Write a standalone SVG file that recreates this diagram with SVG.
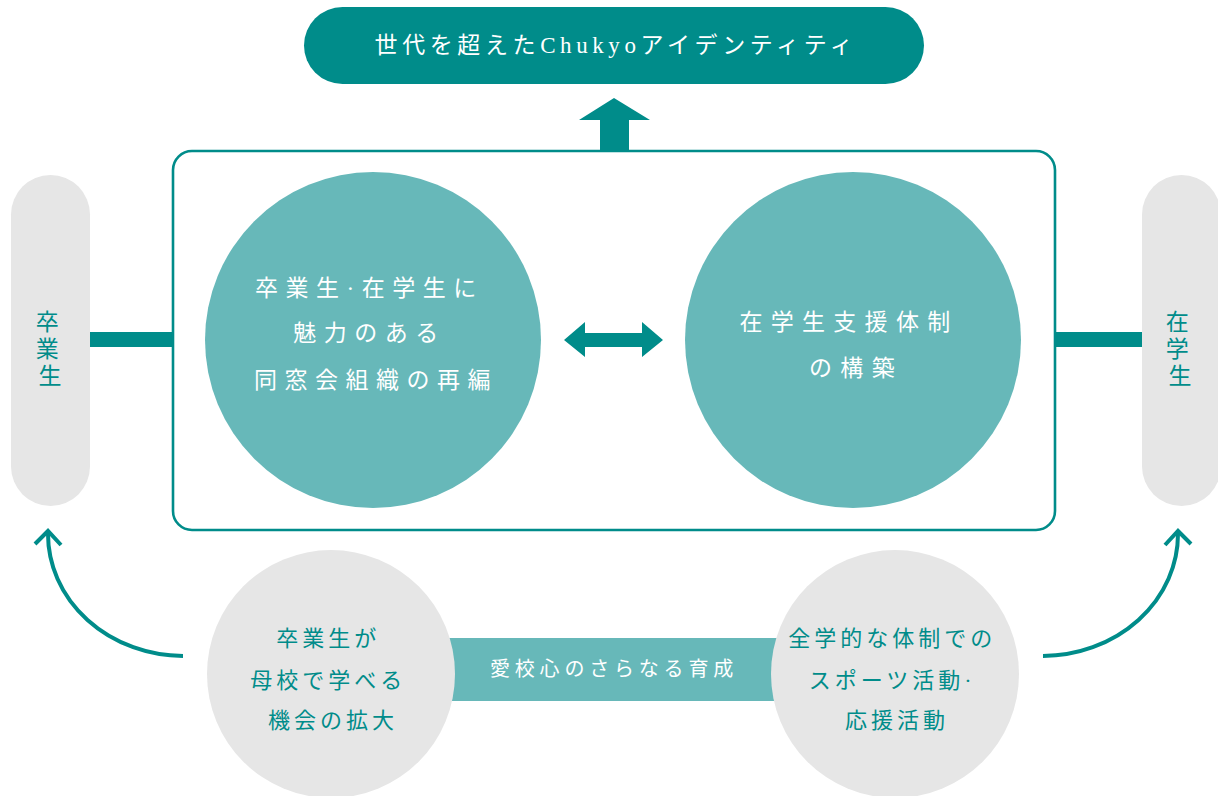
<svg xmlns="http://www.w3.org/2000/svg" width="1218" height="796" viewBox="0 0 1218 796">
<style>
.t{font-family:"Liberation Serif","Noto Sans CJK JP",serif;text-anchor:middle;dominant-baseline:central}
.w{fill:#ffffff}
.d{fill:#008c8a}
.dark{fill:#008c8a}
.light{fill:#67b8b9}
.gray{fill:#e6e6e6}
.curve{fill:none;stroke:#008c8a;stroke-width:4;stroke-linecap:butt}
.chev{fill:none;stroke:#008c8a;stroke-width:4;stroke-linejoin:miter}
</style>
<rect width="1218" height="796" fill="#ffffff"/>
<g id="connectors">
  <polygon class="dark" points="614,98 650,120 629,120 629,151 600,151 600,120 579,120"/>
  <rect class="dark" x="90" y="332" width="83" height="15"/>
  <rect class="dark" x="1054" y="332" width="88" height="15"/>
  <polygon class="dark" points="564,340 585,322 585,333 642,333 642,322 663,340 642,357 642,347 585,347 585,357"/>
  <rect class="light" x="440" y="638" width="350" height="63"/>
  <path class="curve" d="M183,656 A136 122 0 0 1 48,534"/>
  <polyline class="chev" points="35,544 48,531 61,545"/>
  <path class="curve" d="M1043,656 A136 122 0 0 0 1178,534"/>
  <polyline class="chev" points="1165,545 1178,531 1191,544"/>
  <text class="t w" x="614" y="669" font-size="20" letter-spacing="4.8">愛校心のさらなる育成</text>
</g>
<g id="goal">
  <rect class="dark" x="304" y="7" width="620" height="77" rx="38.5"/>
  <text class="t w" x="616" y="45" font-size="23" letter-spacing="4.6">世代を超えたChukyoアイデンティティ</text>
</g>
<g id="frame">
  <rect x="173" y="151" width="882" height="379" rx="19" fill="none" stroke="#008c8a" stroke-width="2.6"/>
</g>
<g id="alumni-org">
  <circle class="light" cx="373" cy="340" r="168"/>
  <text class="t w" font-size="23" letter-spacing="7.5">
    <tspan x="376" y="288">卒業生·在学生に</tspan>
    <tspan x="376" y="333">魅力のある</tspan>
    <tspan x="376" y="380">同窓会組織の再編</tspan>
  </text>
</g>
<g id="student-support">
  <circle class="light" cx="853" cy="340" r="168"/>
  <text class="t w" font-size="23" letter-spacing="8.3">
    <tspan x="856" y="322">在学生支援体制</tspan>
    <tspan x="856" y="368">の構築</tspan>
  </text>
</g>
<g id="graduates">
  <rect class="gray" x="11" y="175" width="79" height="331" rx="39.5"/>
  <text class="t d" font-size="23">
    <tspan x="50" y="322">卒</tspan>
    <tspan x="50" y="349">業</tspan>
    <tspan x="50" y="376">生</tspan>
  </text>
</g>
<g id="students">
  <rect class="gray" x="1142" y="175" width="79" height="331" rx="39.5"/>
  <text class="t d" font-size="23">
    <tspan x="1180" y="322">在</tspan>
    <tspan x="1180" y="349">学</tspan>
    <tspan x="1180" y="376">生</tspan>
  </text>
</g>
<g id="alumni-learning">
  <circle class="gray" cx="331" cy="674" r="124"/>
  <text class="t d" font-size="22" letter-spacing="4">
    <tspan x="333" y="638">卒業生が</tspan>
    <tspan x="333" y="680">母校で学べる</tspan>
    <tspan x="333" y="720">機会の拡大</tspan>
  </text>
</g>
<g id="sports">
  <circle class="gray" cx="895" cy="674" r="124"/>
  <text class="t d" font-size="22" letter-spacing="4">
    <tspan x="897" y="638">全学的な体制での</tspan>
    <tspan x="897" y="680">スポーツ活動·</tspan>
    <tspan x="897" y="720">応援活動</tspan>
  </text>
</g>
</svg>
